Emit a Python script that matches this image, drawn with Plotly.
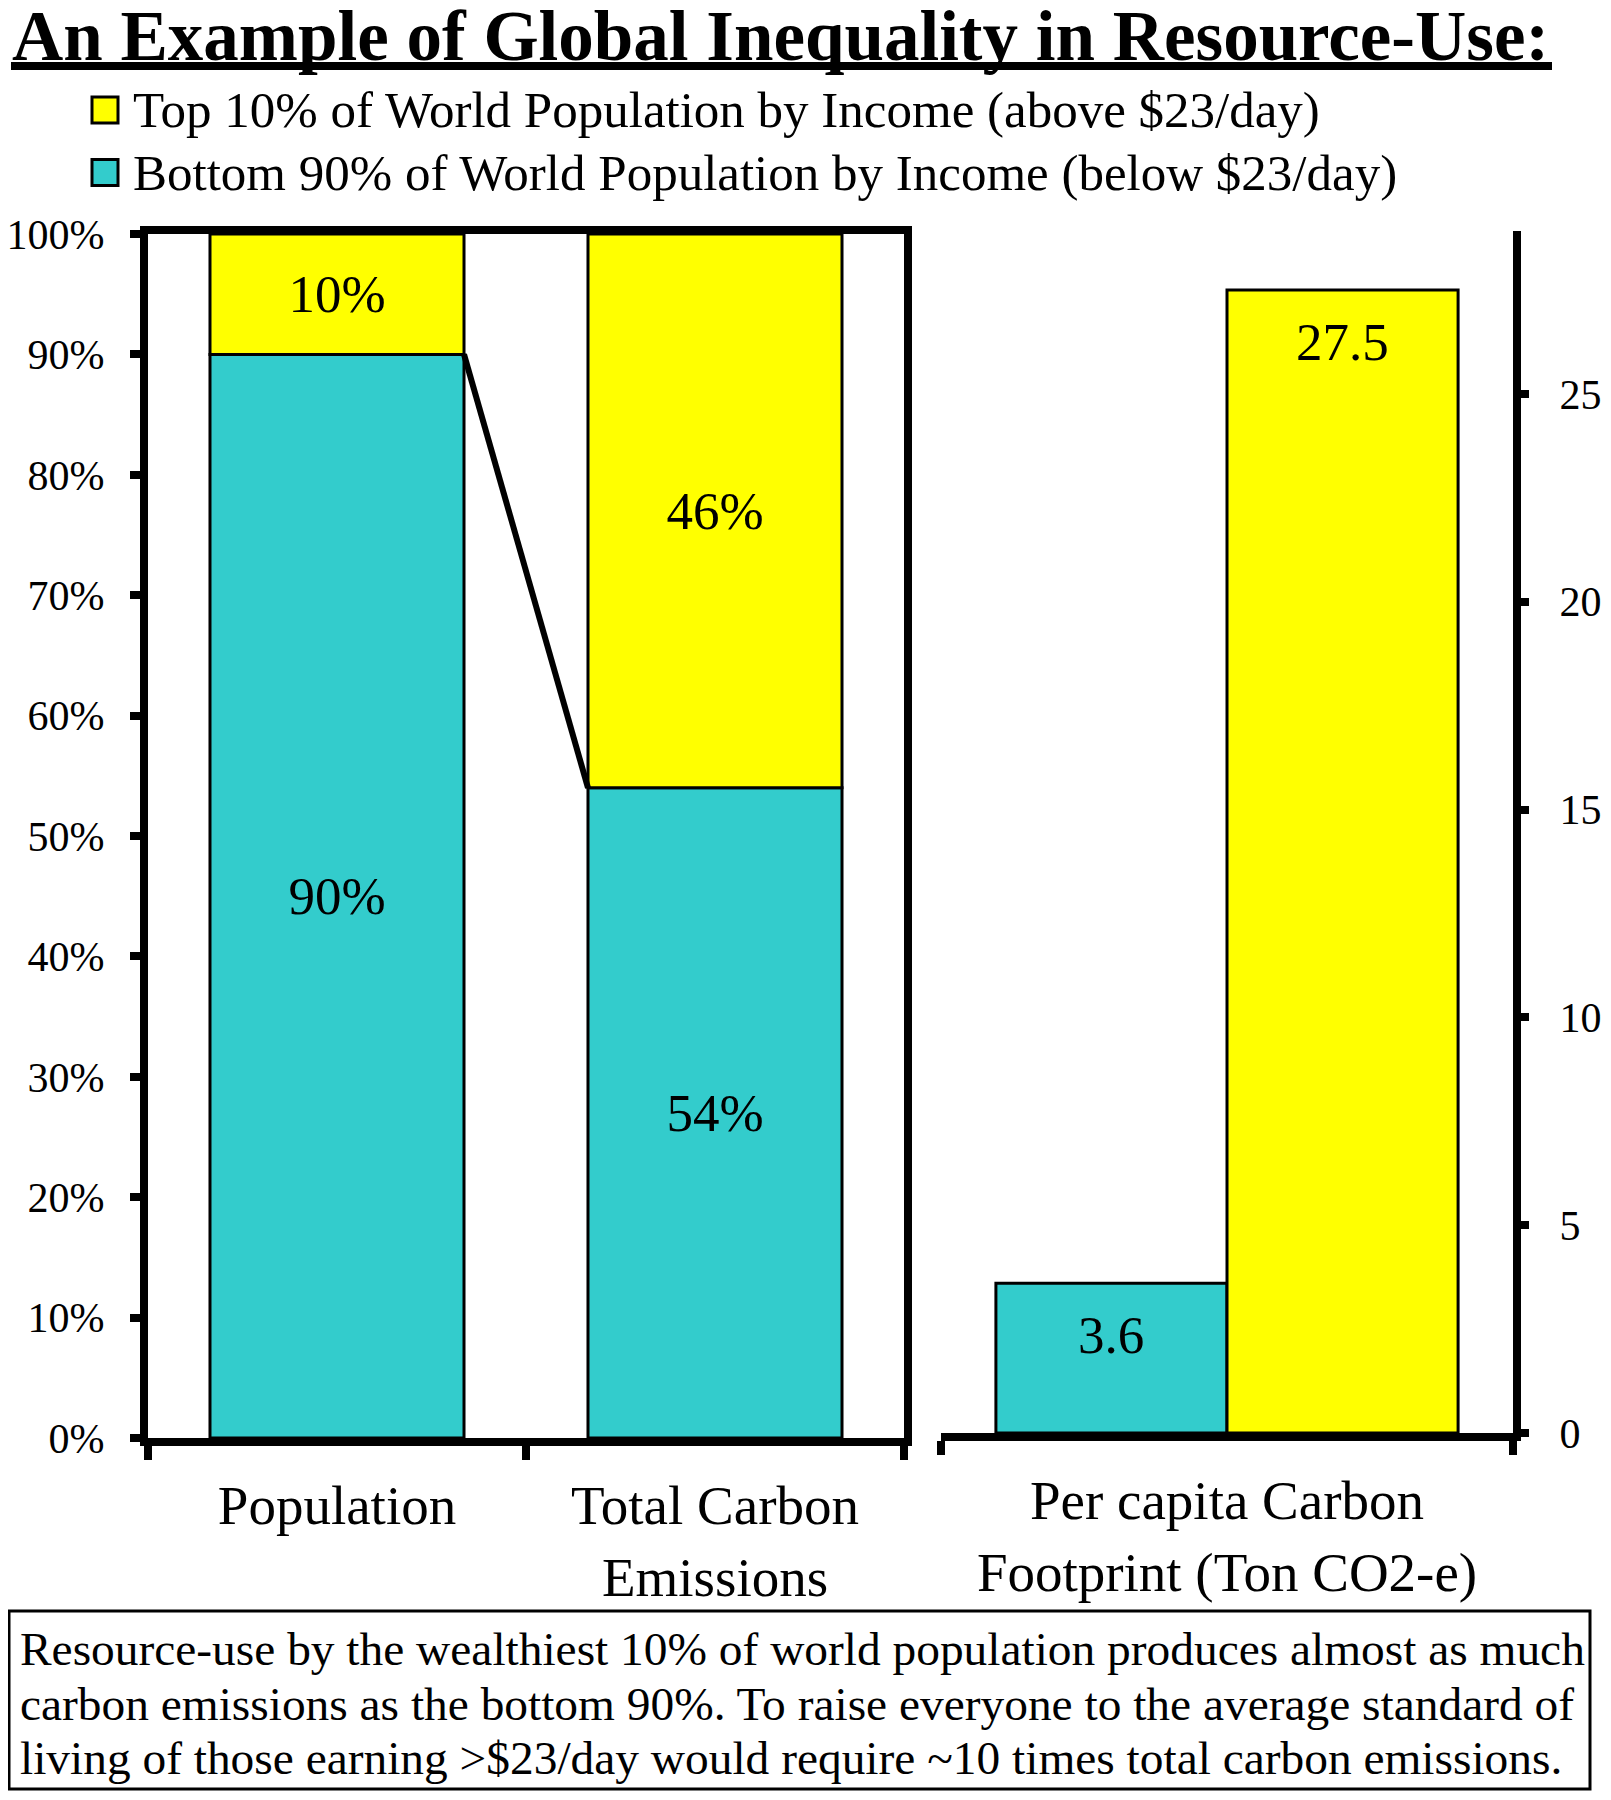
import plotly.graph_objects as go

# ---------------- data ----------------
share_categories = ["Population", "Total Carbon<br>Emissions"]
bottom90_share = [90, 54]
top10_share = [10, 46]

percap_category = ["Per capita Carbon<br>Footprint (Ton CO2-e)"]
bottom90_percap = [3.6]
top10_percap = [27.5]

pct_ticks = list(range(0, 101, 10))
pct_tick_labels = [f"{v}%" for v in pct_ticks]
percap_ticks = [0, 5, 10, 15, 20, 25]

legend_labels = [
    "Top 10% of World Population by Income (above $23/day)",
    "Bottom 90% of World Population by Income (below $23/day)",
]
title_text = "An Example of Global Inequality in Resource-Use:"
note_lines = [
    "Resource-use by the wealthiest 10% of world population produces almost as much",
    "carbon emissions as the bottom 90%. To raise everyone to the average standard of",
    "living of those earning >$23/day would require ~10 times total carbon emissions.",
]

# ---------------- style ----------------
OFF = 8                      # page body margin
W, H = 1611 - OFF * 2, 1800 - OFF * 2
TEAL = "#33CCCC"
YELLOW = "#FFFF00"
FONT = "Liberation Serif"
LW = 8
BAR_W = 0.672
PC_W = 0.404


def px(x):
    return (x - OFF) / W


def py(y):
    return 1 - (y - OFF) / H


fig = go.Figure()

fig.add_trace(go.Bar(
    x=share_categories, y=bottom90_share, width=BAR_W,
    marker=dict(color=TEAL, line=dict(color="black", width=3)),
    texttemplate="%{y:.0f}%", textposition="inside", insidetextanchor="middle",
    textfont=dict(family=FONT, size=53, color="black"), constraintext="none",
    name=legend_labels[1], showlegend=False, xaxis="x", yaxis="y",
))
fig.add_trace(go.Bar(
    x=share_categories, y=top10_share, base=bottom90_share, width=BAR_W,
    marker=dict(color=YELLOW, line=dict(color="black", width=3)),
    texttemplate="%{y:.0f}%", textposition="inside", insidetextanchor="middle",
    textfont=dict(family=FONT, size=53, color="black"), constraintext="none",
    name=legend_labels[0], showlegend=False, xaxis="x", yaxis="y",
))

fig.add_trace(go.Bar(
    x=percap_category, y=bottom90_percap, width=PC_W, offset=-PC_W,
    marker=dict(color=TEAL, line=dict(color="black", width=3)),
    name=legend_labels[1], showlegend=False, xaxis="x2", yaxis="y2",
))
fig.add_trace(go.Bar(
    x=percap_category, y=top10_percap, width=PC_W, offset=0,
    marker=dict(color=YELLOW, line=dict(color="black", width=3)),
    name=legend_labels[0], showlegend=False, xaxis="x2", yaxis="y2",
))

tickfont = dict(family=FONT, size=42, color="black")
catfont = dict(family=FONT, size=55, color="black")

fig.update_layout(
    width=W, height=H,
    margin=dict(l=0, r=0, t=0, b=0, autoexpand=False),
    paper_bgcolor="white", plot_bgcolor="white",
    barmode="overlay",
    showlegend=False,
    title=dict(
        text="<b>" + title_text + "</b>",
        font=dict(family=FONT, size=71, color="black"),
        x=px(12), xanchor="left", xref="container",
        y=py(35), yanchor="middle", yref="container",
        automargin=False,
    ),
    xaxis=dict(
        domain=[px(148), px(904)], anchor="y", automargin=False,
        type="category", range=[-0.5, 1.5],
        showline=True, linewidth=LW, linecolor="black", mirror=True,
        ticks="outside", tickson="boundaries", ticklen=14, tickwidth=LW, tickcolor="black",
        tickfont=catfont, showgrid=False, zeroline=False,
        ticklabelstandoff=12,
    ),
    yaxis=dict(
        domain=[py(1438), py(234)], anchor="x", automargin=False,
        range=[0, 100], tickmode="array", tickvals=pct_ticks, ticktext=pct_tick_labels,
        showline=True, linewidth=LW, linecolor="black", mirror=True,
        ticks="outside", ticklen=10, tickwidth=LW, tickcolor="black",
        tickfont=tickfont, showgrid=False, zeroline=False,
        ticklabelstandoff=17,
    ),
    xaxis2=dict(
        domain=[px(941), px(1513)], anchor="y2", automargin=False,
        type="category", range=[-0.5, 0.5],
        showline=True, linewidth=LW, linecolor="black", mirror=False,
        ticks="outside", tickson="boundaries", ticklen=14, tickwidth=LW, tickcolor="black",
        tickfont=catfont, showgrid=False, zeroline=False,
        ticklabelstandoff=12,
    ),
    yaxis2=dict(
        domain=[py(1433), py(231)], anchor="x2", side="right", automargin=False,
        range=[0, 28.92], tickvals=percap_ticks,
        showline=True, linewidth=LW, linecolor="black", mirror=False,
        ticks="outside", ticklen=8, tickwidth=LW, tickcolor="black",
        tickfont=tickfont, showgrid=False, zeroline=False,
        ticklabelstandoff=22,
    ),
)

shapes = []
# title underline
shapes.append(dict(type="line", xref="paper", yref="paper",
                   x0=px(11), x1=px(1552), y0=py(66), y1=py(66),
                   line=dict(color="black", width=8)))
# connector between the bottom-90% segments
shapes.append(dict(type="line", xref="x", yref="y",
                   x0=0 + BAR_W / 2, y0=bottom90_share[0],
                   x1=1 - BAR_W / 2, y1=bottom90_share[1],
                   line=dict(color="black", width=6), layer="above"))
# legend swatches
for yc, col in [(110, YELLOW), (172.5, TEAL)]:
    shapes.append(dict(type="rect", xref="paper", yref="paper",
                       x0=px(92), x1=px(118), y0=py(yc - 13), y1=py(yc + 13),
                       fillcolor=col, line=dict(color="black", width=3)))
# footnote box
shapes.append(dict(type="rect", xref="paper", yref="paper",
                   x0=px(9), x1=px(1590), y0=py(1611), y1=py(1789),
                   line=dict(color="black", width=3), fillcolor="rgba(0,0,0,0)"))
fig.update_layout(shapes=shapes)

ann = []
for yc, lab in zip([110, 172.5], legend_labels):
    ann.append(dict(text=lab, xref="paper", yref="paper", x=px(131), y=py(yc),
                    xanchor="left", yanchor="middle", showarrow=False,
                    font=dict(family=FONT, size=51, color="black")))
for yc, line in zip([1649, 1704, 1758], note_lines):
    ann.append(dict(text=line, xref="paper", yref="paper", x=px(18), y=py(yc),
                    xanchor="left", yanchor="middle", showarrow=False,
                    font=dict(family=FONT, size=47.4, color="black")))
# per-capita value labels (inside end of bars)
for xpos, val in [(-PC_W / 2, bottom90_percap[0]), (PC_W / 2, top10_percap[0])]:
    ann.append(dict(text=f"{val}", xref="x2", yref="y2", x=xpos, y=val,
                    xanchor="center", yanchor="middle", yshift=-52, showarrow=False,
                    font=dict(family=FONT, size=53, color="black")))
fig.update_layout(annotations=ann)

fig.write_html("out.html")
